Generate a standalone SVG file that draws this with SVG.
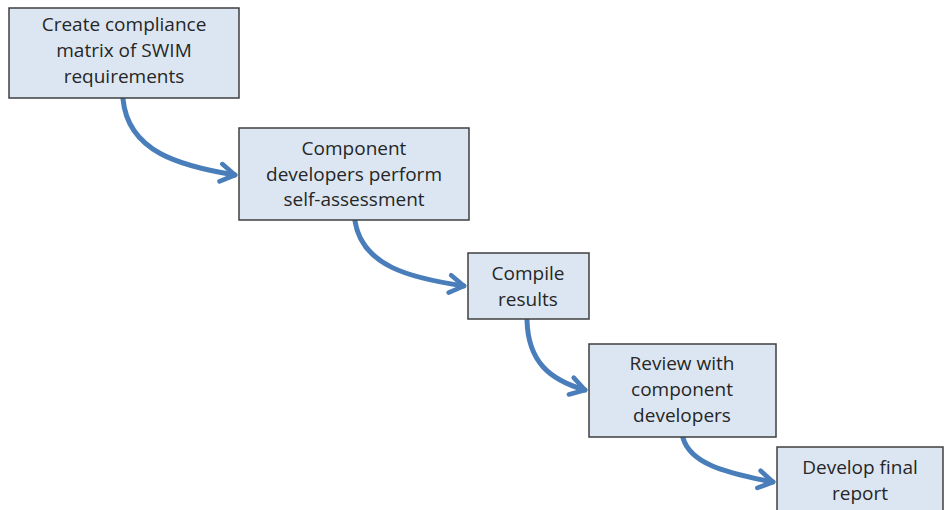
<svg xmlns="http://www.w3.org/2000/svg" width="950" height="510" viewBox="0 0 950 510">
  <defs>
    <marker id="head" viewBox="0 0 10 10" refX="8" refY="5" markerWidth="4.6" markerHeight="4.6" orient="auto" markerUnits="strokeWidth">
      <path d="M1.8,1.2 L8,5 L1.8,8.8" fill="none" stroke="#4a7ebb" stroke-width="2" stroke-linecap="round" stroke-linejoin="round"/>
    </marker>
    <style>
      .box { fill: #dce6f2; stroke: #3f3f3f; stroke-width: 1.5; }
      .lbl { font-family: "Open Sans", "Liberation Sans", sans-serif; font-size: 19px; fill: #262626; text-anchor: middle; }
      .arrow { fill: none; stroke: #4a7ebb; stroke-width: 5; stroke-linecap: round; marker-end: url(#head); }
    </style>
  </defs>
  <rect width="950" height="510" fill="#ffffff"/>

  <g id="connectors">
    <path class="arrow" d="M123,99 C128,152 180,166 235,175"/>
    <path class="arrow" d="M355,221 C362,266 410,278 464,286"/>
    <path class="arrow" d="M527,320 C528,362 550,380 585,390"/>
    <path class="arrow" d="M683,438 C690,462 720,472 773,482"/>
  </g>

  <g id="step1">
    <rect class="box" x="9" y="8" width="230" height="90"/>
    <text class="lbl" x="124" y="31">Create compliance</text>
    <text class="lbl" x="124" y="57">matrix of SWIM</text>
    <text class="lbl" x="124" y="83">requirements</text>
  </g>

  <g id="step2">
    <rect class="box" x="239" y="128" width="230" height="92"/>
    <text class="lbl" x="354" y="155">Component</text>
    <text class="lbl" x="354" y="181">developers perform</text>
    <text class="lbl" x="354" y="206">self-assessment</text>
  </g>

  <g id="step3">
    <rect class="box" x="468" y="253" width="121" height="66"/>
    <text class="lbl" x="528" y="280">Compile</text>
    <text class="lbl" x="528" y="306">results</text>
  </g>

  <g id="step4">
    <rect class="box" x="589" y="344" width="187" height="93"/>
    <text class="lbl" x="682" y="370">Review with</text>
    <text class="lbl" x="682" y="396">component</text>
    <text class="lbl" x="682" y="422">developers</text>
  </g>

  <g id="step5">
    <rect class="box" x="777" y="447" width="166" height="70"/>
    <text class="lbl" x="860" y="474">Develop final</text>
    <text class="lbl" x="860" y="500">report</text>
  </g>
</svg>
